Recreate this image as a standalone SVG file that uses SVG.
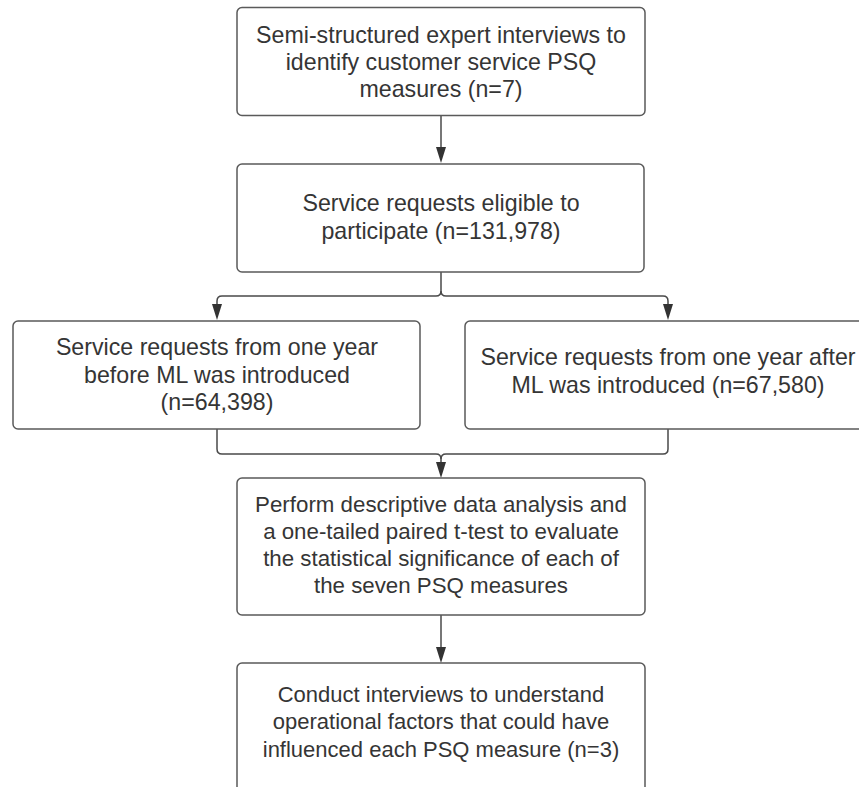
<svg xmlns="http://www.w3.org/2000/svg" width="859" height="787" viewBox="0 0 859 787">
<style>
.box{fill:#ffffff;stroke:#5a5a5a;stroke-width:1.5}
.t{font-family:"Liberation Sans",Arial,sans-serif;font-size:22px;fill:#353535;text-anchor:middle}
.big{font-size:23.2px}
.mid{font-size:22.3px}
.c{fill:none;stroke:#4a4a4a;stroke-width:1.5}
.ah{fill:#333333}
</style>
<rect width="859" height="787" fill="#ffffff"/>
<g id="connectors">
<path class="c" d="M441,116 V150"/>
<path class="ah" d="M436,147 L446,147 L441,163 Z"/>
<path class="c" d="M441,272 V291 Q441,296 436,296 H222 Q217,296 217,301 V305"/>
<path class="ah" d="M212,304 L222,304 L217,320 Z"/>
<path class="c" d="M441,291 Q441,296 446,296 H663 Q668,296 668,301 V305"/>
<path class="ah" d="M663,304 L673,304 L668,320 Z"/>
<path class="c" d="M217,429 V449 Q217,454 222,454 H436 Q441,454 441,459 V464"/>
<path class="c" d="M668,429 V449 Q668,454 663,454 H446 Q441,454 441,459"/>
<path class="ah" d="M436,462 L446,462 L441,478 Z"/>
<path class="c" d="M441,615 V650"/>
<path class="ah" d="M436,647 L446,647 L441,663 Z"/>
</g>
<g id="n1">
<rect class="box" x="237" y="7.5" width="408" height="108" rx="5"/>
<text class="t big" x="441" y="43">Semi-structured expert interviews to</text>
<text class="t big" x="441" y="70">identify customer service PSQ</text>
<text class="t big" x="441" y="97">measures (n=7)</text>
</g>
<g id="n2">
<rect class="box" x="237" y="164" width="407" height="108" rx="5"/>
<text class="t big" x="441" y="211">Service requests eligible to</text>
<text class="t big" x="441" y="239">participate (n=131,978)</text>
</g>
<g id="n3">
<rect class="box" x="13" y="321" width="407" height="108" rx="5"/>
<text class="t big" x="217" y="355">Service requests from one year</text>
<text class="t big" x="217" y="383">before ML was introduced</text>
<text class="t big" x="217" y="410">(n=64,398)</text>
</g>
<g id="n4">
<rect class="box" x="465" y="321" width="407" height="108" rx="5"/>
<text class="t big" x="668" y="365">Service requests from one year after</text>
<text class="t big" x="668" y="393">ML was introduced (n=67,580)</text>
</g>
<g id="n5">
<rect class="box" x="237" y="478" width="408" height="137" rx="5"/>
<text class="t mid" x="441" y="512">Perform descriptive data analysis and</text>
<text class="t mid" x="441" y="539">a one-tailed paired t-test to evaluate</text>
<text class="t mid" x="441" y="566">the statistical significance of each of</text>
<text class="t mid" x="441" y="593">the seven PSQ measures</text>
</g>
<g id="n6">
<rect class="box" x="237" y="663" width="408" height="137" rx="5"/>
<text class="t" x="441" y="702">Conduct interviews to understand</text>
<text class="t" x="441" y="729">operational factors that could have</text>
<text class="t" x="441" y="757">influenced each PSQ measure (n=3)</text>
</g>
</svg>
